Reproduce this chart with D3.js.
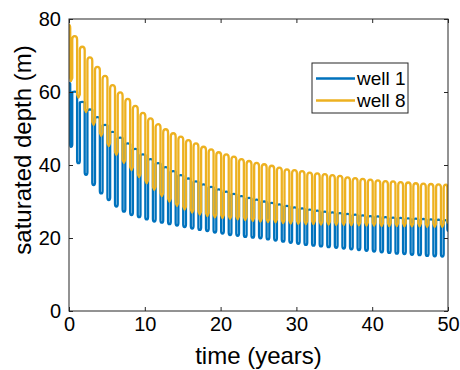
<!DOCTYPE html>
<html>
<head>
<meta charset="utf-8">
<script src="https://cdn.jsdelivr.net/npm/d3@7"></script>
<style>
  html, body { margin: 0; padding: 0; background: #fff; }
  svg { display: block; font-family: "Liberation Sans", Arial, sans-serif; }
</style>
</head>
<body>
<svg id="chart" width="460" height="370"></svg>
<script>
// ---- data ----
const xTicks = [0, 10, 20, 30, 40, 50];
const yTicks = [0, 20, 40, 60, 80];
const seriesNames = ["well 1", "well 8"];
const cycleYears = d3.range(50);           // one seasonal cycle per year
const troughOffset = 0.25, peakOffset = 0.75;

// well 1 (blue): start value, yearly low and high
const well1Start = 62.5;
const well1Low = [45.0, 40.5, 37.3, 34.5, 32.2, 30.4, 28.6, 27.2, 26.3, 25.7,
                  25.1, 24.5, 24.2, 23.8, 23.4, 23.0, 22.6, 22.2, 21.9, 21.5,
                  21.2, 20.8, 20.6, 20.3, 20.1, 19.9, 19.6, 19.3, 19.0, 18.7,
                  18.4, 18.1, 17.9, 17.7, 17.5, 17.3, 17.1, 16.9, 16.7, 16.5,
                  16.3, 16.1, 15.9, 15.7, 15.6, 15.4, 15.3, 15.1, 15.0, 14.9];
const well1High = [60.1, 57.3, 55.2, 53.1, 51.0, 49.1, 47.5, 45.9, 44.4, 42.9,
                   41.6, 40.5, 39.4, 38.3, 37.2, 36.3, 35.5, 34.7, 34.0, 33.3,
                   32.7, 32.1, 31.5, 31.0, 30.5, 30.0, 29.6, 29.2, 28.8, 28.4,
                   28.1, 27.8, 27.5, 27.2, 27.0, 26.8, 26.6, 26.4, 26.2, 26.0,
                   25.9, 25.7, 25.6, 25.5, 25.4, 25.3, 25.2, 25.1, 25.0, 24.9];
const well1End = 22.0;

// well 8 (yellow): start value, yearly low and high
const well8Start = 78.4;
const well8Low = [63.0, 58.5, 54.5, 51.0, 48.0, 45.2, 42.8, 40.6, 38.6, 36.7,
                  35.0, 33.2, 31.5, 30.0, 28.8, 27.8, 27.0, 26.4, 26.0, 25.7,
                  25.5, 25.3, 25.1, 24.9, 24.7, 24.5, 24.4, 24.3, 24.1, 24.0,
                  23.9, 23.8, 23.8, 23.7, 23.7, 23.6, 23.6, 23.5, 23.5, 23.4,
                  23.4, 23.3, 23.3, 23.3, 23.2, 23.2, 23.2, 23.1, 23.1, 23.1];
const well8High = [75.3, 72.4, 69.5, 66.9, 64.4, 61.9, 59.9, 58.1, 56.2, 54.3,
                   52.8, 51.2, 49.8, 48.7, 47.8, 46.8, 45.9, 45.0, 44.3, 43.5,
                   42.9, 42.3, 41.6, 41.1, 40.6, 40.2, 39.8, 39.3, 38.8, 38.6,
                   38.3, 37.9, 37.7, 37.5, 37.2, 37.0, 36.6, 36.4, 36.2, 36.0,
                   35.8, 35.6, 35.5, 35.3, 35.2, 35.0, 34.9, 34.8, 34.7, 34.6];
const well8End = 24.0;

const colors = ["#0072BD", "#EDB120"];

// ---- build point lists ----
function buildSeries(start, lows, highs, end) {
  const pts = [{ t: 0, v: start }];
  cycleYears.forEach((k, i) => {
    pts.push({ t: k + troughOffset, v: lows[i] });
    pts.push({ t: k + peakOffset, v: highs[i] });
  });
  pts.push({ t: 50, v: end });
  return pts;
}
const series = [
  buildSeries(well1Start, well1Low, well1High, well1End),
  buildSeries(well8Start, well8Low, well8High, well8End)
];

// custom d3 curve: near-vertical sides beside each trough, turning at the extremes
function seasonalCurve(dFrac, rTop, rBot, roundBottom) {
  return function(context) {
    let x0, y0, n = 0;
    return {
      lineStart() { n = 0; },
      lineEnd() {},
      areaStart() {}, areaEnd() {},
      point(x, y) {
        x = +x; y = +y;
        if (n === 0) { context.moveTo(x, y); }
        else {
          const w = x - x0, dx = dFrac * w;
          if (y < y0) {                     // rising: trough (x0,y0) -> peak (x,y)
            const H = y0 - y;
            const rb = Math.min(rBot, H * 0.4), rt = Math.min(rTop, H * 0.5);
            if (roundBottom) context.bezierCurveTo(x0 + 0.55 * dx, y0, x0 + dx, y0 - 0.45 * rb, x0 + dx, y0 - rb);
            else context.lineTo(x0 + dx, y0 - rb);
            context.lineTo(x0 + dx, y + rt);
            context.bezierCurveTo(x0 + dx, y + 0.45 * rt, x - 0.55 * (w - dx), y, x, y);
          } else {                          // falling: peak (x0,y0) -> trough (x,y)
            const H = y - y0;
            const rb = Math.min(rBot, H * 0.4), rt = Math.min(rTop, H * 0.5);
            context.bezierCurveTo(x0 + 0.55 * (w - dx), y0, x - dx, y0 + 0.45 * rt, x - dx, y0 + rt);
            context.lineTo(x - dx, y - rb);
            if (roundBottom) context.bezierCurveTo(x - dx, y - 0.45 * rb, x - 0.55 * dx, y, x, y);
            else context.lineTo(x, y);
          }
        }
        x0 = x; y0 = y; n++;
      }
    };
  };
}
const shapes = [
  { d: 0.36, rTop: 0.8, rBot: 2.5, round: true },   // well 1
  { d: 0.36, rTop: 3.5, rBot: 3.0, round: false }   // well 8
];

// ---- layout ----
const svg = d3.select("#chart");
const L = 69, R = 448, T = 19, B = 311;
const x = d3.scaleLinear().domain([0, 50]).range([L, R]);
const y = d3.scaleLinear().domain([0, 80]).range([B, T]);
const axisColor = "#262626";

svg.append("defs").append("clipPath").attr("id", "clip")
  .append("rect").attr("x", L).attr("y", T).attr("width", R - L).attr("height", B - T);

// lines
const g = svg.append("g").attr("clip-path", "url(#clip)");
series.forEach((s, i) => {
  const sh = shapes[i];
  const line = d3.line().x(d => x(d.t)).y(d => y(d.v))
    .curve(seasonalCurve(sh.d, sh.rTop, sh.rBot, sh.round));
  g.append("path").datum(s)
    .attr("d", line)
    .attr("fill", "none")
    .attr("stroke", colors[i])
    .attr("stroke-width", 2.3)
    .attr("stroke-linejoin", "round");
});

// axes
function styleAxis(sel) {
  sel.select(".domain").remove();
  sel.selectAll(".tick line").attr("stroke", axisColor).attr("stroke-width", 1);
  sel.selectAll(".tick text").attr("fill", "#000").style("font-size", "20px")
     .style("font-family", '"Liberation Sans", Arial, sans-serif');
}
svg.append("g").attr("transform", `translate(0,${B})`)
  .call(d3.axisBottom(x).tickValues(xTicks).tickSizeInner(-4).tickSizeOuter(0).tickPadding(6))
  .call(styleAxis);
svg.append("g").attr("transform", `translate(${L},0)`)
  .call(d3.axisLeft(y).tickValues(yTicks).tickSizeInner(-4).tickSizeOuter(0).tickPadding(8))
  .call(styleAxis);
svg.append("g").attr("transform", `translate(0,${T})`)
  .call(d3.axisTop(x).tickValues(xTicks).tickSizeInner(-4).tickSizeOuter(0).tickFormat(""))
  .call(styleAxis);
svg.append("g").attr("transform", `translate(${R},0)`)
  .call(d3.axisRight(y).tickValues(yTicks).tickSizeInner(-4).tickSizeOuter(0).tickFormat(""))
  .call(styleAxis);

// box
svg.append("rect").attr("x", L).attr("y", T).attr("width", R - L).attr("height", B - T)
  .attr("fill", "none").attr("stroke", axisColor).attr("stroke-width", 1);

// axis labels
svg.append("text").attr("x", (L + R) / 2).attr("y", 364)
  .attr("text-anchor", "middle").style("font-size", "24px").attr("fill", "#000")
  .text("time (years)");
svg.append("text").attr("transform", "translate(31,150) rotate(-90)")
  .attr("text-anchor", "middle").style("font-size", "24px").attr("fill", "#000")
  .text("saturated depth (m)");

// legend
const lg = svg.append("g");
lg.append("rect").attr("x", 312).attr("y", 63).attr("width", 96).attr("height", 50)
  .attr("fill", "#fff").attr("stroke", axisColor).attr("stroke-width", 1);
seriesNames.forEach((name, i) => {
  const yy = 78.5 + i * 22;
  lg.append("line").attr("x1", 316).attr("x2", 355).attr("y1", yy).attr("y2", yy)
    .attr("stroke", colors[i]).attr("stroke-width", 2.3);
  lg.append("text").attr("x", 357).attr("y", yy + 6.5)
    .style("font-size", "19px").attr("fill", "#000").text(name);
});
</script>
</body>
</html>
